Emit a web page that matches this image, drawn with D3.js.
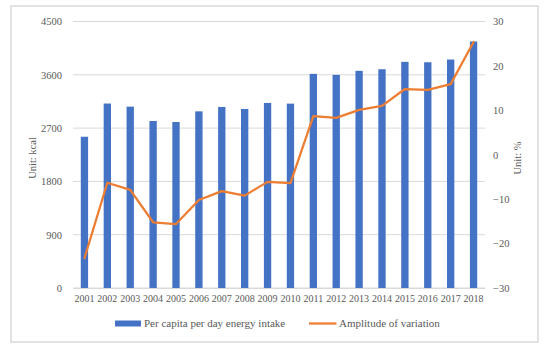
<!DOCTYPE html>
<html><head><meta charset="utf-8">
<script src="https://cdn.jsdelivr.net/npm/d3@7"></script>
<style>body{margin:0;background:#fff}svg{display:block}</style>
</head><body>
<svg id="c" width="550" height="351"></svg>
<script>
const years = ["2001","2002","2003","2004","2005","2006","2007","2008","2009","2010","2011","2012","2013","2014","2015","2016","2017","2018"];
const energyIntake = [2554,3115,3062,2820,2803,2983,3057,3023,3125,3113,3616,3599,3667,3694,3819,3812,3858,4162];
const amplitude = [-23.3,-6.3,-7.9,-15.2,-15.6,-10.2,-8.2,-9.2,-6.1,-6.4,8.7,8.3,10.1,11.0,14.8,14.6,15.9,25.4];
const leftTicks = [0,900,1800,2700,3600,4500];
const rightTicks = [-30,-20,-10,0,10,20,30];
const seriesNames = ["Per capita per day energy intake","Amplitude of variation"];
const axisTitles = ["Unit: kcal","Unit: %"];

const svg = d3.select("#c");
const font = "'Liberation Serif','Times New Roman',serif";
const txt = "#595959";
const L = 73, R = 485, T = 21.5, B = 288;

svg.append("rect").attr("x",11).attr("y",6).attr("width",527).attr("height",336)
  .attr("fill","#fff").attr("stroke","#d9d9d9").attr("stroke-width",1.5);

const x = d3.scaleBand().domain(years).range([L,R]).paddingInner(0.68).paddingOuter(0.34);
const xc = d3.scaleBand().domain(years).range([L,R]);
const yL = d3.scaleLinear().domain([0,4500]).range([B,T]);
const yR = d3.scaleLinear().domain([-30,30]).range([B,T]);

// gridlines
svg.append("g").selectAll("line").data(leftTicks).join("line")
  .attr("x1",L).attr("x2",R).attr("y1",d=>yL(d)).attr("y2",d=>yL(d))
  .attr("stroke","#d9d9d9").attr("stroke-width",1);

// left axis
const gl = svg.append("g").attr("transform",`translate(${L},0)`)
  .call(d3.axisLeft(yL).tickValues(leftTicks).tickFormat(d3.format("d")).tickSize(0).tickPadding(11));
gl.select(".domain").remove();
gl.selectAll("text").attr("fill",txt).style("font-family",font).style("font-size","10.5px");

// right axis
const gr = svg.append("g").attr("transform",`translate(${R},0)`)
  .call(d3.axisRight(yR).tickValues(rightTicks).tickFormat(d3.format("d")).tickSize(0).tickPadding(8));
gr.select(".domain").remove();
gr.selectAll("text").attr("fill",txt).style("font-family",font).style("font-size","10.5px");

// bars
svg.append("g").selectAll("rect").data(years).join("rect")
  .attr("x",d=>x(d)).attr("width",x.bandwidth())
  .attr("y",(d,i)=>yL(energyIntake[i])).attr("height",(d,i)=>B-yL(energyIntake[i]))
  .attr("fill","#4472C4");

// x axis
const gx = svg.append("g").attr("transform",`translate(0,${B})`)
  .call(d3.axisBottom(xc).tickSize(0).tickPadding(7));
gx.select(".domain").attr("stroke","#d9d9d9");
gx.selectAll("text").attr("fill",txt).style("font-family",font).style("font-size","10px");

// line
const line = d3.line().x((d,i)=>xc(years[i])+xc.bandwidth()/2).y(d=>yR(d));
svg.append("path").datum(amplitude).attr("d",line)
  .attr("fill","none").attr("stroke","#ED7D31").attr("stroke-width",2.25).attr("stroke-linejoin","round").attr("stroke-linecap","round");

// axis titles
svg.append("text").attr("transform",`translate(36,158) rotate(-90)`).attr("text-anchor","middle")
  .attr("fill",txt).style("font-family",font).style("font-size","10.5px").text(axisTitles[0]);
svg.append("text").attr("transform",`translate(521,158) rotate(-90)`).attr("text-anchor","middle")
  .attr("fill",txt).style("font-family",font).style("font-size","10.5px").text(axisTitles[1]);

// legend
const lg = svg.append("g");
lg.append("rect").attr("x",115).attr("y",320.5).attr("width",26).attr("height",6).attr("fill","#4472C4");
lg.append("text").attr("x",144).attr("y",327).attr("fill",txt).style("font-family",font).style("font-size","11px").text(seriesNames[0]);
lg.append("line").attr("x1",309).attr("x2",336.5).attr("y1",323.5).attr("y2",323.5).attr("stroke","#ED7D31").attr("stroke-width",2.25);
lg.append("text").attr("x",339).attr("y",327).attr("fill",txt).style("font-family",font).style("font-size","11px").text(seriesNames[1]);
</script>
</body></html>
